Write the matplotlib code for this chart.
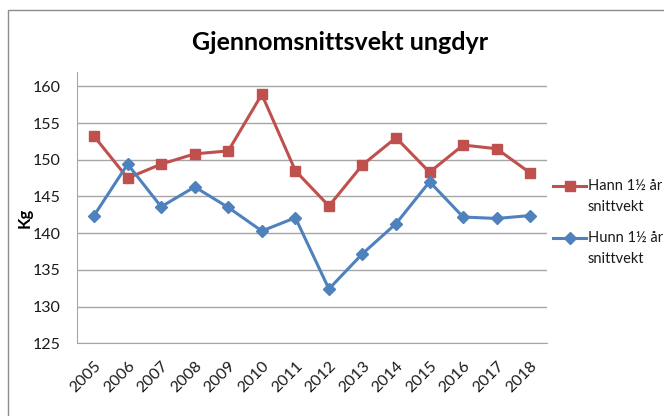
import matplotlib
matplotlib.use("Agg")
import matplotlib.pyplot as plt
from matplotlib.patches import Rectangle
from matplotlib.lines import Line2D

plt.rcParams['font.family'] = ['Lato', 'DejaVu Sans']

years = ["2005", "2006", "2007", "2008", "2009", "2010", "2011",
         "2012", "2013", "2014", "2015", "2016", "2017", "2018"]
hann = [153.2, 147.5, 149.4, 150.8, 151.2, 158.9, 148.5,
        143.7, 149.3, 153.0, 148.3, 152.0, 151.5, 148.2]
hunn = [142.4, 149.4, 143.6, 146.3, 143.5, 140.3, 142.1,
        132.4, 137.2, 141.3, 147.0, 142.2, 142.0, 142.4]
yticks = [125, 130, 135, 140, 145, 150, 155, 160]
series_labels = ["Hann 1½ år\nsnittvekt", "Hunn 1½ år\nsnittvekt"]
title = "Gjennomsnittsvekt ungdyr"
ylabel = "Kg"

W, H = 664, 416
fig = plt.figure(figsize=(W / 100, H / 100), dpi=100)
fig.patch.set_facecolor("white")

def fx(px):
    return px / W

def fy(py):
    return (H - py) / H

# chart border
fig.patches.append(Rectangle((fx(8), -0.1), 1.2, fy(10) + 0.1,
                             transform=fig.transFigure, fill=False,
                             edgecolor="#8c8c8c", linewidth=1.0))

left, right, bottom, top = 77.3, 547, 343.3, 72
ax = fig.add_axes([fx(left), fy(bottom), (right - left) / W, (bottom - top) / H])

x = list(range(len(years)))
red = "#C0504D"
blue = "#4F81BD"
styles = [dict(color=red, marker="s", markersize=7.5),
          dict(color=blue, marker="D", markersize=6.5)]
ax.plot(x, hann, lw=2.2, zorder=3, markeredgecolor=red, markerfacecolor=red, **styles[0])
ax.plot(x, hunn, lw=2.2, zorder=4, markeredgecolor=blue, markerfacecolor=blue, **styles[1])

ax.set_xlim(-0.5, len(years) - 0.5)
ax.set_ylim(125, 161.95)
ax.set_yticks(yticks)
ax.set_yticklabels([str(v) for v in yticks], fontsize=11.5, color="#1a1a1a")
ax.set_xticks(x)
ax.set_xticklabels(years, rotation=45, ha="right", rotation_mode="anchor",
                   fontsize=11.5, color="#1a1a1a")
ax.tick_params(axis="both", length=0)
ax.tick_params(axis="y", pad=12)
ax.tick_params(axis="x", pad=11)
ax.grid(axis="y", color="#a6a6a6", linewidth=1.0)
ax.set_axisbelow(True)
for s in ["top", "right"]:
    ax.spines[s].set_visible(False)
ax.spines["left"].set_color("#a6a6a6")
ax.spines["bottom"].set_color("#a6a6a6")

fig.text(fx(25), fy(218), ylabel, rotation=90, ha="center", va="center",
         fontsize=12, fontweight="bold", color="black")

fig.text(fx(340), fy(42), title, ha="center", va="center",
         fontsize=18, fontweight="bold", color="black")

# legend drawn by hand so the handle sits on the first text line
for i, (lab, st) in enumerate(zip(series_labels, styles)):
    y0 = 186 + i * 52
    fig.add_artist(Line2D([fx(553), fx(586)], [fy(y0), fy(y0)], lw=2.2,
                          color=st["color"], transform=fig.transFigure))
    fig.add_artist(Line2D([fx(569.5)], [fy(y0)], lw=0, color=st["color"],
                          marker=st["marker"], markersize=st["markersize"],
                          markeredgecolor=st["color"], markerfacecolor=st["color"],
                          transform=fig.transFigure))
    for j, part in enumerate(lab.split("\n")):
        fig.text(fx(588), fy(y0 + j * 21), part, ha="left", va="center",
                 fontsize=10.5, color="#1a1a1a")

fig.savefig("out.png", dpi=100)
